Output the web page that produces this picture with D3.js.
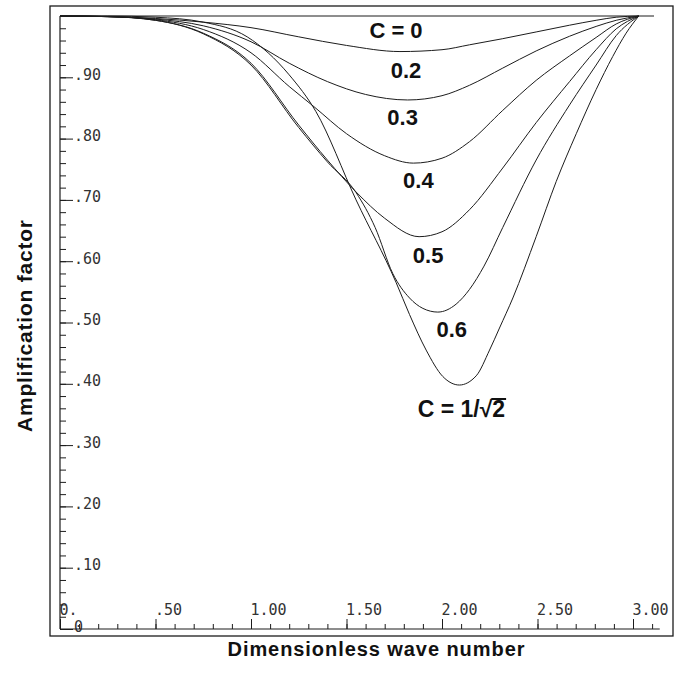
<!DOCTYPE html>
<html>
<head>
<meta charset="utf-8">
<script src="https://cdn.jsdelivr.net/npm/d3@7"></script>
<style>
  body { margin: 0; background: #fff; }
  svg { display: block; }
</style>
</head>
<body>
<svg id="chart" width="675" height="674"></svg>
<script>
// Tick values and labels
var xTicks = [0, 0.5, 1, 1.5, 2, 2.5, 3];
var xTickLabels = ["0.", ".50", "1.00", "1.50", "2.00", "2.50", "3.00"];
var yTicks = [0, 0.1, 0.2, 0.3, 0.4, 0.5, 0.6, 0.7, 0.8, 0.9];
var yTickLabels = ["0", ".10", ".20", ".30", ".40", ".50", ".60", ".70", ".80", ".90"];

// Curves: [wave number, amplification factor]
var ampC0 = [[0, 1], [3.11, 1]];
var ampC02 = [[0, 1], [0.25, 0.999], [0.5, 0.996], [0.75, 0.990], [1.0, 0.981], [1.25, 0.966], [1.5, 0.952], [1.78, 0.942], [2.0, 0.945], [2.144, 0.953], [2.318, 0.963], [2.493, 0.974], [2.668, 0.985], [2.807, 0.993], [2.912, 0.998], [3.03, 1.0]];
var ampC03 = [[0, 1], [0.25, 0.999], [0.5, 0.995], [0.75, 0.984], [1.0, 0.958], [1.2, 0.923], [1.4, 0.893], [1.6, 0.872], [1.82, 0.863], [2.0, 0.870], [2.144, 0.887], [2.318, 0.915], [2.493, 0.943], [2.668, 0.967], [2.807, 0.983], [2.912, 0.993], [3.03, 1.0]];
var ampC04 = [[0, 1], [0.25, 0.999], [0.5, 0.994], [0.75, 0.978], [1.0, 0.940], [1.2, 0.885], [1.33, 0.852], [1.5, 0.808], [1.7, 0.772], [1.85, 0.760], [2.0, 0.768], [2.144, 0.795], [2.318, 0.846], [2.493, 0.895], [2.668, 0.935], [2.807, 0.965], [2.912, 0.987], [3.03, 1.0]];
var ampC05 = [[0, 1], [0.25, 0.999], [0.5, 0.993], [0.75, 0.972], [1.0, 0.923], [1.25, 0.822], [1.4, 0.765], [1.55, 0.713], [1.7, 0.670], [1.88, 0.640], [2.0, 0.648], [2.144, 0.684], [2.318, 0.752], [2.493, 0.826], [2.668, 0.893], [2.807, 0.945], [2.912, 0.979], [3.03, 1.0]];
var ampC06 = [[0, 1], [0.25, 0.999], [0.5, 0.993], [0.75, 0.971], [1.0, 0.920], [1.25, 0.818], [1.4, 0.762], [1.55, 0.712], [1.65, 0.655], [1.742, 0.580], [1.83, 0.540], [1.9, 0.523], [1.978, 0.517], [2.074, 0.530], [2.144, 0.554], [2.22, 0.592], [2.318, 0.655], [2.493, 0.765], [2.668, 0.855], [2.807, 0.920], [2.912, 0.968], [3.03, 1.0]];
var ampC07 = [[0, 1], [0.25, 1.0], [0.5, 0.998], [0.75, 0.990], [0.98, 0.966], [1.2, 0.904], [1.34, 0.844], [1.55, 0.700], [1.76, 0.565], [1.83, 0.513], [1.917, 0.455], [2.004, 0.412], [2.091, 0.398], [2.179, 0.413], [2.249, 0.455], [2.301, 0.491], [2.371, 0.540], [2.493, 0.640], [2.598, 0.730], [2.703, 0.808], [2.807, 0.880], [2.894, 0.934], [2.964, 0.972], [3.03, 1.0]];

var curves = [ampC0, ampC02, ampC03, ampC04, ampC05, ampC06, ampC07];
var curveLabels = ["C = 0", "0.2", "0.3", "0.4", "0.5", "0.6", "C = 1/\u221A2"];

var svg = d3.select("#chart");
var ink = "#1c1c1c";

// Scales
var x = d3.scaleLinear().domain([0, 3]).range([60, 633]);
var y = d3.scaleLinear().domain([0, 1]).range([629, 16]);

// Outer frame
svg.append("rect")
    .attr("x", 50).attr("y", 6)
    .attr("width", 623).attr("height", 630)
    .attr("fill", "none")
    .attr("stroke", ink)
    .attr("stroke-width", 1.3);

// X axis: minor ticks every 0.1, major every 0.5 (pointing up into the plot)
var xMinor = d3.range(1, 32).map(function(i) { return i / 10; });
svg.append("g")
    .attr("transform", "translate(0," + y(0) + ")")
    .style("color", ink)
    .call(d3.axisBottom(x).tickValues(xMinor).tickSize(-5).tickFormat("").tickSizeOuter(0))
    .call(function(g) { g.select(".domain").remove(); });

var xMajor = svg.append("g")
    .attr("transform", "translate(0," + y(0) + ")")
    .style("color", ink)
    .call(d3.axisBottom(x).tickValues(xTicks).tickSize(-10).tickSizeOuter(0)
        .tickFormat(function(d, i) { return xTickLabels[i]; }))
    .call(function(g) { g.select(".domain").remove(); });

xMajor.selectAll("text")
    .attr("y", -14)
    .attr("dy", 0)
    .attr("x", -1)
    .attr("text-anchor", "start")
    .style("font-family", "'DejaVu Sans Mono', monospace")
    .style("font-size", "15px")
    .style("fill", "#333");

// Y axis: minor ticks every 0.02, major every 0.1 (pointing right)
var yMinor = d3.range(1, 50).map(function(i) { return i * 0.02; });
svg.append("g")
    .attr("transform", "translate(" + x(0) + ",0)")
    .style("color", ink)
    .call(d3.axisLeft(y).tickValues(yMinor).tickSize(-6).tickFormat("").tickSizeOuter(0))
    .call(function(g) { g.select(".domain").remove(); });

var yMajor = svg.append("g")
    .attr("transform", "translate(" + x(0) + ",0)")
    .style("color", ink)
    .call(d3.axisLeft(y).tickValues(yTicks).tickSize(-13).tickSizeOuter(0)
        .tickFormat(function(d, i) { return yTickLabels[i]; }))
    .call(function(g) { g.select(".domain").remove(); });

yMajor.selectAll("text")
    .attr("x", 14)
    .attr("dy", 2)
    .attr("text-anchor", "start")
    .style("font-family", "'DejaVu Sans Mono', monospace")
    .style("font-size", "15px")
    .style("fill", "#333");

// Axis lines
svg.append("line")
    .attr("x1", x(0)).attr("x2", x(3.14))
    .attr("y1", y(0)).attr("y2", y(0))
    .attr("stroke", ink).attr("stroke-width", 1.2);
svg.append("line")
    .attr("x1", x(0)).attr("x2", x(0))
    .attr("y1", y(0)).attr("y2", y(1))
    .attr("stroke", ink).attr("stroke-width", 1.2);

// Curves
var line = d3.line()
    .x(function(d) { return x(d[0]); })
    .y(function(d) { return y(d[1]); })
    .curve(d3.curveMonotoneX);

svg.append("g")
    .selectAll("path")
    .data(curves)
    .enter().append("path")
        .attr("d", line)
        .attr("fill", "none")
        .attr("stroke", ink)
        .attr("stroke-width", 1);

// Curve labels, placed just under each curve's lowest point
var labelNudge = [[-4, 22], [6, 26], [-5, 25], [5, 25], [9, 26], [14, 25], [2, 32]];
curves.forEach(function(c, i) {
    var low = d3.least(c, function(d) { return d[1]; });
    var lx = i === 0 ? x(1.78) : x(low[0]);
    var last = i === curves.length - 1;
    var t = svg.append("text")
        .attr("x", lx + labelNudge[i][0])
        .attr("y", y(low[1]) + labelNudge[i][1])
        .attr("text-anchor", "middle")
        .style("font-family", "'Liberation Sans', Arial, sans-serif")
        .style("font-weight", "bold")
        .style("font-size", last ? "23px" : "22px")
        .style("fill", "#111")
        .text(curveLabels[i]);
    if (last) {
        // bar of the square root over the "2"
        var n = curveLabels[i].length - 1;
        var node = t.node();
        var s = node.getStartPositionOfChar(n), e = node.getEndPositionOfChar(n);
        svg.append("line")
            .attr("x1", s.x - 1).attr("x2", e.x + 1)
            .attr("y1", s.y - 18).attr("y2", s.y - 18)
            .attr("stroke", "#111").attr("stroke-width", 2);
    }
});

// Axis titles
svg.append("text")
    .attr("x", 376).attr("y", 656)
    .attr("text-anchor", "middle")
    .attr("textLength", 297)
    .attr("lengthAdjust", "spacing")
    .style("font-family", "'Liberation Sans', Arial, sans-serif")
    .style("font-weight", "bold")
    .style("font-size", "20px")
    .style("fill", "#111")
    .text("Dimensionless wave number");

svg.append("text")
    .attr("transform", "translate(32,326) rotate(-90)")
    .attr("text-anchor", "middle")
    .attr("textLength", 212)
    .attr("lengthAdjust", "spacing")
    .style("font-family", "'Liberation Sans', Arial, sans-serif")
    .style("font-weight", "bold")
    .style("font-size", "21px")
    .style("fill", "#111")
    .text("Amplification factor");
</script>
</body>
</html>
